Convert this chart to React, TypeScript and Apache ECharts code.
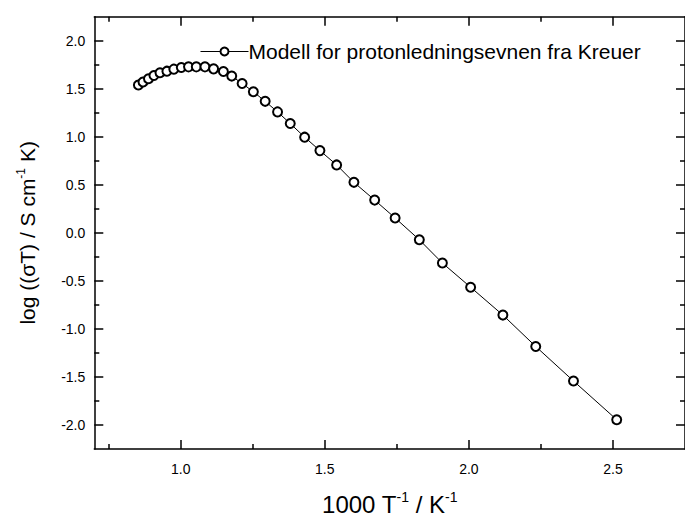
import React, { useEffect, useRef } from "react";
import * as echarts from "echarts";

// 1000/T (K^-1)
const invT = [
  0.853, 0.869, 0.888, 0.907, 0.928, 0.952, 0.976, 1.002, 1.027, 1.054, 1.084,
  1.114, 1.148, 1.177, 1.213, 1.252, 1.293, 1.336, 1.38, 1.43, 1.483, 1.541,
  1.601, 1.673, 1.744, 1.828, 1.908, 2.006, 2.118, 2.232, 2.363, 2.513,
];
// log(sigma T)
const logSigmaT = [
  1.539, 1.57, 1.604, 1.638, 1.666, 1.683, 1.704, 1.721, 1.728, 1.728, 1.728,
  1.707, 1.679, 1.632, 1.555, 1.469, 1.369, 1.259, 1.138, 0.996, 0.856, 0.707,
  0.526, 0.341, 0.155, -0.072, -0.314, -0.566, -0.856, -1.183, -1.542, -1.945,
];

const seriesName = "Modell for protonledningsevnen fra Kreuer";
const xMajor = [1.0, 1.5, 2.0, 2.5];
const xMinor = [0.75, 1.25, 1.75, 2.25];
const yMajor = [-2.0, -1.5, -1.0, -0.5, 0.0, 0.5, 1.0, 1.5, 2.0];
const yMinor = [-1.75, -1.25, -0.75, -0.25, 0.25, 0.75, 1.25, 1.75];
const X_MIN = 0.7;
const X_MAX = 2.75;
const Y_MIN = -2.25;
const Y_MAX = 2.25;

const FONT = "'Liberation Sans', Arial, Helvetica, sans-serif";

export default function App() {
  const ref = useRef<HTMLDivElement>(null);

  useEffect(() => {
    if (!ref.current) return;
    const chart = echarts.init(ref.current, undefined, { renderer: "svg" });

    const lineStyle = { color: "#000", width: 1.5 };

    const mkAxis = (
      min: number,
      max: number,
      position: string,
      ticks: number[],
      len: number,
      showLine: boolean,
      extra: any = {}
    ) => ({
      type: "value",
      min,
      max,
      position,
      splitLine: { show: false },
      axisLine: { show: showLine, onZero: false, lineStyle },
      axisTick: {
        show: true,
        inside: true,
        length: len,
        customValues: ticks,
        lineStyle,
      },
      axisLabel: { show: false },
      ...extra,
    });

    const xTitleRich = {
      a: { fontSize: 24, fontFamily: FONT, color: "#000", lineHeight: 28, verticalAlign: "bottom" },
      s: { fontSize: 14, fontFamily: FONT, color: "#000", lineHeight: 28, verticalAlign: "top", padding: [2, 0, 0, 0] },
    };
    const yTitleRich = {
      a: { fontSize: 21, fontFamily: FONT, color: "#000", lineHeight: 25, verticalAlign: "bottom" },
      s: { fontSize: 12, fontFamily: FONT, color: "#000", lineHeight: 25, verticalAlign: "top", padding: [2, 0, 0, 0] },
    };

    const option: any = {
      animation: false,
      backgroundColor: "#fff",
      textStyle: { fontFamily: FONT },
      grid: { left: 94.3, top: 16.7, width: 593.2, height: 435, containLabel: false },
      legend: {
        data: [seriesName],
        left: 195,
        top: 36,
        itemWidth: 48,
        itemHeight: 10,
        lineStyle: { width: 1, color: "#000" },
        itemStyle: { borderWidth: 1, borderColor: "#000" },
        textStyle: { fontSize: 21, color: "#000", fontFamily: FONT, padding: [0, 0, 0, -5] },
      },
      xAxis: [
        mkAxis(X_MIN, X_MAX, "bottom", xMajor, 9, true, {
          axisLabel: {
            show: true,
            customValues: xMajor,
            formatter: (v: number) => v.toFixed(1),
            fontSize: 14,
            color: "#000",
            margin: 13,
            fontFamily: FONT,
          },
          name: "{a|1000 T}{s|-1}{a| / K}{s|-1}",
          nameLocation: "middle",
          nameGap: 39,
          nameTextStyle: { rich: xTitleRich },
        }),
        mkAxis(X_MIN, X_MAX, "bottom", xMinor, 5, false),
        mkAxis(X_MIN, X_MAX, "top", xMajor, 9, true),
        mkAxis(X_MIN, X_MAX, "top", xMinor, 5, false),
      ],
      yAxis: [
        mkAxis(Y_MIN, Y_MAX, "left", yMajor, 9, true, {
          axisLabel: {
            show: true,
            customValues: yMajor,
            formatter: (v: number) => v.toFixed(1),
            fontSize: 14,
            color: "#000",
            margin: 9,
            fontFamily: FONT,
          },
          name: "{a|log ((\u03C3T) / S cm}{s|-1}{a| K)}",
          nameLocation: "middle",
          nameRotate: 90,
          nameGap: 56,
          nameTextStyle: { rich: yTitleRich },
        }),
        mkAxis(Y_MIN, Y_MAX, "left", yMinor, 5, false),
        mkAxis(Y_MIN, Y_MAX, "right", yMajor, 9, true),
        mkAxis(Y_MIN, Y_MAX, "right", yMinor, 5, false),
      ],
      series: [
        {
          name: seriesName,
          type: "line",
          xAxisIndex: 0,
          yAxisIndex: 0,
          data: invT.map((x, i) => [x, logSigmaT[i]]),
          symbol: "emptyCircle",
          symbolSize: 9,
          lineStyle: { color: "#000", width: 1 },
          itemStyle: { color: "#000", borderColor: "#000", borderWidth: 1 },
          emphasis: { disabled: true },
        },
      ],
    };

    chart.setOption(option);
    return () => chart.dispose();
  }, []);

  return (
    <div
      ref={ref}
      style={{ position: "fixed", left: 0, top: 0, width: 685, height: 521, background: "#fff" }}
    />
  );
}
